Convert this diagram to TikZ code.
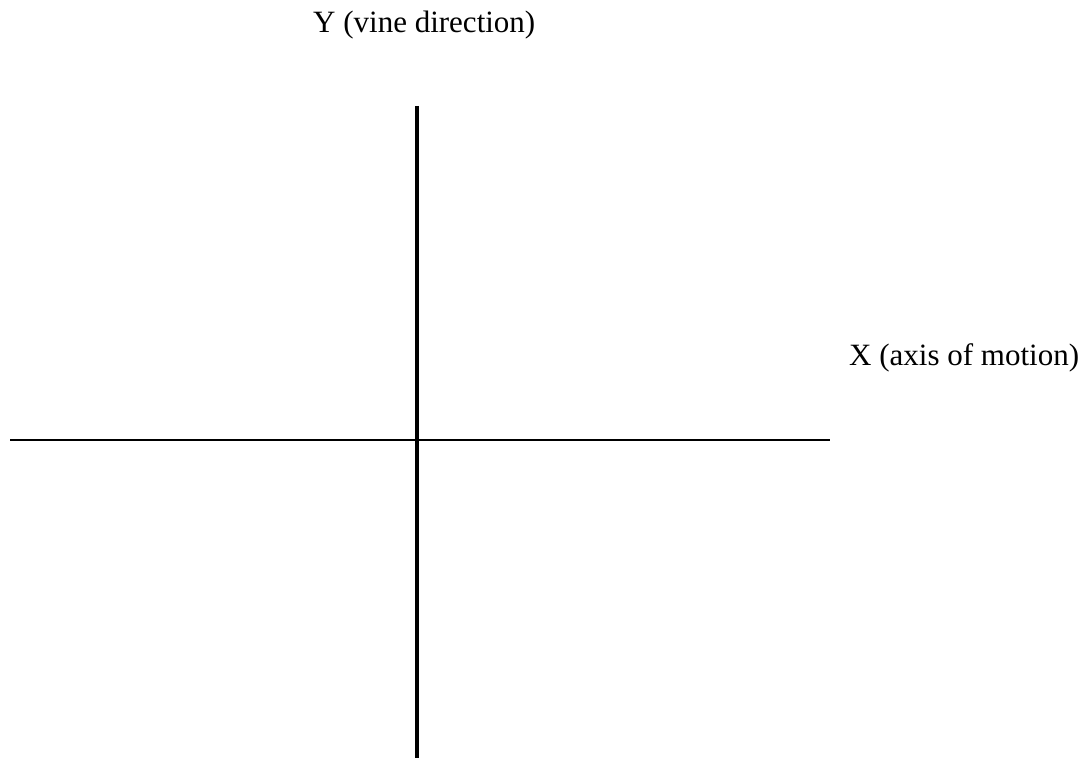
\documentclass[tikz,border=0pt]{standalone}
\usepackage{fontspec}
\setmainfont{Liberation Serif}
\begin{document}
\begin{tikzpicture}[x=1pt,y=1pt,
  lbl/.style={anchor=base west,inner sep=0pt,font=\fontsize{31}{36}\selectfont},
  vaxis/.style={line width=3.8pt,black},
  haxis/.style={line width=2.3pt,black}]
\useasboundingbox (0,0) rectangle (1091,758);
% coordinates: x in px, y = 758 - px
\coordinate (vtop) at (417,652);
\coordinate (vbot) at (417,0);
\coordinate (hl) at (10,318.3);
\coordinate (hr) at (830,318.3);
\draw[haxis] (hl) -- (hr);
\draw[vaxis] (vtop) -- (vbot);
\node[lbl] (ylab) at (313,725) {Y (vine direction)};
\node[lbl] (xlab) at (849,392) {X (axis of motion)};
\end{tikzpicture}
\end{document}
